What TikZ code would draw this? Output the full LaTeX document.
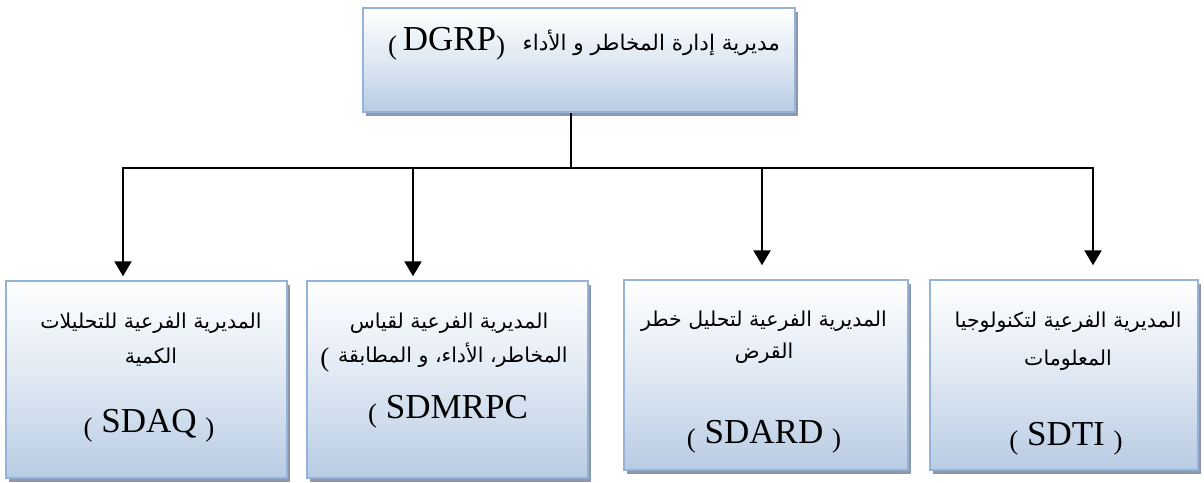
\documentclass[tikz,border=0pt]{standalone}
\usepackage{fontspec}
\setmainfont{Liberation Serif}
\newfontfamily\arfont[Script=Arabic]{DejaVu Sans}
\TeXXeTstate=1
\usetikzlibrary{arrows.meta,shadows}
\definecolor{boxblue}{RGB}{184,204,228}
\definecolor{edgeblue}{RGB}{149,179,215}
\definecolor{shadowc}{RGB}{140,152,170}
\newcommand{\mylp}{\raisebox{-4pt}{\fontsize{27}{27}\selectfont(}}
\newcommand{\myrp}{\raisebox{-4pt}{\fontsize{27}{27}\selectfont)}}
\newcommand{\ar}[1]{{\arfont\fontsize{20.5}{24}\selectfont\beginR #1\endR}}
\tikzset{
  orgbox/.style={draw=edgeblue, line width=1.5pt, top color=white, bottom color=boxblue,
    middle color=white!55!boxblue, inner sep=0pt,
    drop shadow={fill=shadowc, opacity=1, shadow xshift=3pt, shadow yshift=-4pt}},
  lbl/.style={anchor=base, inner sep=0pt, font=\fontsize{35}{40}\selectfont},
  arr/.style={line width=2.4pt, -{Triangle[length=15pt,width=17pt]}},
  link/.style={line width=2.4pt}
}
\begin{document}
\begin{tikzpicture}[x=1pt,y=-1pt]
\useasboundingbox (0,0) rectangle (1204,482);
% boxes
\node[orgbox, minimum width=432pt, minimum height=104pt] (top) at (579,60) {};
\node[orgbox, minimum width=281pt, minimum height=197pt] (b1) at (146.5,379.5) {};
\node[orgbox, minimum width=281pt, minimum height=197pt] (b2) at (447.5,379.5) {};
\node[orgbox, minimum width=284pt, minimum height=190pt] (b3) at (766,375) {};
\node[orgbox, minimum width=268pt, minimum height=190pt] (b4) at (1064,375) {};
% top text
\node[lbl] (t0) at (584,50) {\mylp\,DGRP\myrp\ \ {\arfont\fontsize{21.5}{24}\selectfont\beginR مديرية  إدارة المخاطر و الأداء\endR}};
% box 1
\node[lbl] (t11) at (151,328) {\ar{المديرية الفرعية للتحليلات}};
\node[lbl] (t12) at (151,363) {\ar{الكمية}};
\node[lbl] (t13) at (149,432) {\mylp\ SDAQ\ \myrp};
% box 2
\node[lbl] (t21) at (449,328) {\ar{المديرية الفرعية لقياس}};
\node[lbl] (t22) at (444,362) {\mylp\ \ar{المخاطر، الأداء، و المطابقة}};
\node[lbl] (t23) at (448,418) {\mylp\ SDMRPC};
% box 3
\node[lbl] (t31) at (764,326) {\ar{المديرية الفرعية لتحليل خطر}};
\node[lbl] (t32) at (764,358) {\ar{القرض}};
\node[lbl] (t33) at (764,443) {\mylp\ SDARD\ \myrp};
% box 4
\node[lbl] (t41) at (1068,327) {\ar{المديرية الفرعية لتكنولوجيا}};
\node[lbl] (t42) at (1068,365) {\ar{المعلومات}};
\node[lbl] (t43) at (1066,445) {\mylp\ SDTI\ \myrp};
% connectors
\coordinate (hub) at (571,168);
\coordinate (c1) at (123,168);
\coordinate (c2) at (413,168);
\coordinate (c3) at (762,168);
\coordinate (c4) at (1093,168);
\draw[link] (top.south -| hub) -- (hub);
\draw[link, line cap=rect] (c1) -- (c4);
\draw[arr, shorten >=4pt] (c1) -- (c1 |- b1.north);
\draw[arr, shorten >=4pt] (c2) -- (c2 |- b2.north);
\draw[arr, shorten >=14pt] (c3) -- (c3 |- b3.north);
\draw[arr, shorten >=14pt] (c4) -- (c4 |- b4.north);
\end{tikzpicture}
\end{document}
